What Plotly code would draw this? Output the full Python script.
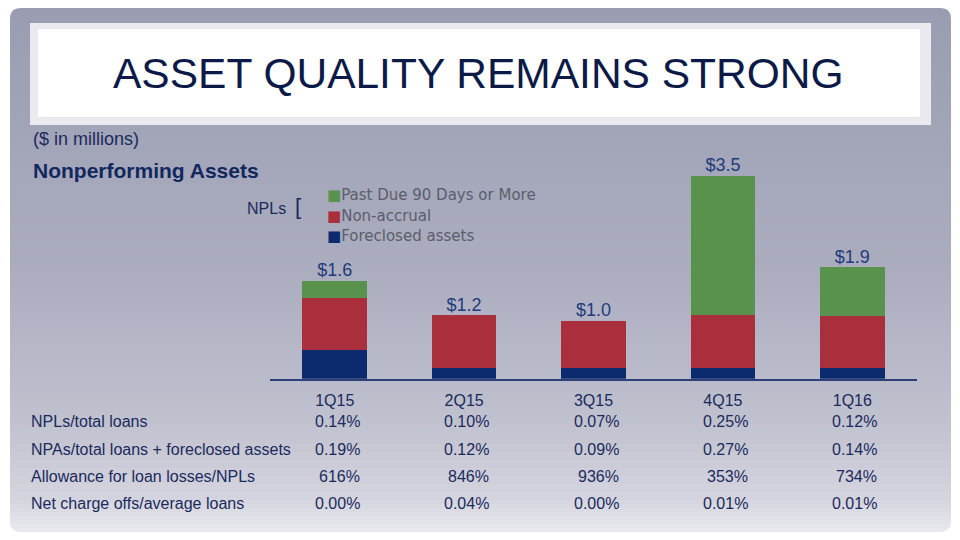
import plotly.graph_objects as go

# ---------------- data ----------------
quarters = ["1Q15", "2Q15", "3Q15", "4Q15", "1Q16"]
foreclosed = [0.49, 0.19, 0.19, 0.19, 0.19]
non_accrual = [0.91, 0.90, 0.81, 0.90, 0.89]
past_due = [0.29, 0.00, 0.00, 2.41, 0.84]
total_labels = ["$1.6", "$1.2", "$1.0", "$3.5", "$1.9"]

series_names = ["Past Due 90 Days or More", "Non-accrual", "Foreclosed assets"]

row_labels = [
    "NPLs/total loans",
    "NPAs/total loans + foreclosed assets",
    "Allowance for loan losses/NPLs",
    "Net charge offs/average loans",
]
row_values = [
    ["0.14%", "0.10%", "0.07%", "0.25%", "0.12%"],
    ["0.19%", "0.12%", "0.09%", "0.27%", "0.14%"],
    ["616%", "846%", "936%", "353%", "734%"],
    ["0.00%", "0.04%", "0.00%", "0.01%", "0.01%"],
]

title_text = "ASSET QUALITY REMAINS STRONG"

# ---------------- styles ----------------
W, H = 960, 540
GREEN = "#58924c"
RED = "#a92f3d"
NAVY = "#0c2a6e"
TEXT_NAVY = "#1b2a5c"
LABEL_NAVY = "#1f3a7c"
ARIAL = "Liberation Sans, Arial, sans-serif"
GOTHIC = "DejaVu Sans, Noto Sans, sans-serif"


def px(x):
    return x / W


def py(y):
    return 1 - y / H


totals = [f + n + p for f, n, p in zip(foreclosed, non_accrual, past_due)]

fig = go.Figure()
fig.add_bar(x=quarters, y=foreclosed, name=series_names[2], marker_color=NAVY,
            width=0.5, marker_line_width=0)
fig.add_bar(x=quarters, y=non_accrual, name=series_names[1], marker_color=RED,
            width=0.5, marker_line_width=0)
fig.add_bar(x=quarters, y=past_due, name=series_names[0], marker_color=GREEN,
            width=0.5, marker_line_width=0)
fig.add_scatter(x=quarters, y=totals, mode="text", text=total_labels,
                textposition="top center",
                textfont=dict(family=ARIAL, size=18, color=LABEL_NAVY),
                showlegend=False, hoverinfo="skip")

shapes = []
# panel gradient as stripes
stops = [(8, (154, 156, 177)), (270, (171, 173, 191)), (420, (192, 193, 207)),
         (500, (213, 213, 223)), (532, (233, 233, 239))]


def col_at(y):
    for (y0, c0), (y1, c1) in zip(stops[:-1], stops[1:]):
        if y0 <= y <= y1:
            t = (y - y0) / (y1 - y0)
            return tuple(round(a + (b - a) * t) for a, b in zip(c0, c1))
    return stops[-1][1]


x0p, x1p, y0p, y1p = 10, 951, 8, 532
step = 4
y = y0p
while y < y1p:
    yb = min(y + step, y1p)
    c = col_at(y + step / 2)
    shapes.append(dict(type="rect", xref="paper", yref="paper", layer="below",
                       x0=px(x0p), x1=px(x1p), y0=py(y), y1=py(min(yb + 0.6, y1p)),
                       fillcolor="rgb(%d,%d,%d)" % c, line_width=0))
    y = yb

# rounded-corner masks (white)
r = 11
corners = [
    (x0p, y0p, 1, 1), (x1p, y0p, -1, 1), (x0p, y1p, 1, -1), (x1p, y1p, -1, -1)
]
for cx, cy, sx, sy in corners:
    pts = [(cx - sx, cy - sy), (cx + sx * r, cy - sy), (cx + sx * r, cy), (cx, cy), (cx, cy + sy * r), (cx - sx, cy + sy * r)]
    path = "M {:.5f},{:.5f} L {:.5f},{:.5f} L {:.5f},{:.5f} Q {:.5f},{:.5f} {:.5f},{:.5f} L {:.5f},{:.5f} Z".format(
        px(pts[0][0]), py(pts[0][1]), px(pts[1][0]), py(pts[1][1]),
        px(pts[2][0]), py(pts[2][1]), px(pts[3][0]), py(pts[3][1]),
        px(pts[4][0]), py(pts[4][1]), px(pts[5][0]), py(pts[5][1]))
    shapes.append(dict(type="path", xref="paper", yref="paper", layer="below",
                       path=path, fillcolor="white", line_width=0))

# title box
shapes.append(dict(type="rect", xref="paper", yref="paper", layer="below",
                   x0=px(30), x1=px(931), y0=py(23), y1=py(125),
                   fillcolor="#e9e9ef", line_width=0))
shapes.append(dict(type="rect", xref="paper", yref="paper", layer="below",
                   x0=px(38), x1=px(920), y0=py(29), y1=py(117),
                   fillcolor="white", line_width=0))

annotations = []
annotations.append(dict(text=title_text, xref="paper", yref="paper", x=px(478), y=py(73),
                        xanchor="center", yanchor="middle", showarrow=False,
                        font=dict(family=ARIAL, size=42.5, color="#0c1a48")))
annotations.append(dict(text="($ in millions)", xref="paper", yref="paper", x=px(31), y=py(139),
                        xanchor="left", yanchor="middle", showarrow=False,
                        font=dict(family=ARIAL, size=18, color=TEXT_NAVY)))
annotations.append(dict(text="<b>Nonperforming Assets</b>", xref="paper", yref="paper",
                        x=px(31), y=py(170), xanchor="left", yanchor="middle",
                        showarrow=False, font=dict(family=ARIAL, size=21, color="#13275f")))
annotations.append(dict(text="NPLs", xref="paper", yref="paper", x=px(245), y=py(208),
                        xanchor="left", yanchor="middle", showarrow=False,
                        font=dict(family=ARIAL, size=16, color=TEXT_NAVY)))
annotations.append(dict(text="[", xref="paper", yref="paper", x=px(293), y=py(207),
                        xanchor="left", yanchor="middle", showarrow=False,
                        font=dict(family=ARIAL, size=22, color=TEXT_NAVY)))

legend_colors = [GREEN, RED, NAVY]
for i, (nm, cl) in enumerate(zip(series_names, legend_colors)):
    annotations.append(dict(
        text="<span style='color:%s'>■</span>%s" % (cl, nm),
        xref="paper", yref="paper", x=px(325), y=py(195 + 20.5 * i),
        xanchor="left", yanchor="middle", showarrow=False,
        font=dict(family=GOTHIC, size=15, color="#5b5d6c")))

row_y = [421, 449, 476, 503]
for lab, vals, yy in zip(row_labels, row_values, row_y):
    annotations.append(dict(text=lab, xref="paper", yref="paper", x=px(29), y=py(yy),
                            xanchor="left", yanchor="middle", showarrow=False,
                            font=dict(family=ARIAL, size=16, color=TEXT_NAVY)))
    for q, v in zip(quarters, vals):
        annotations.append(dict(text=v, xref="x", yref="paper", x=q, y=py(yy),
                                xanchor="right", yanchor="middle", xshift=27,
                                showarrow=False,
                                font=dict(family=ARIAL, size=16, color=TEXT_NAVY)))

fig.update_layout(
    width=W, height=H,
    margin=dict(l=0, r=0, t=0, b=0),
    paper_bgcolor="white", plot_bgcolor="rgba(0,0,0,0)",
    barmode="stack", bargap=0.5,
    showlegend=False,
    shapes=shapes, annotations=annotations,
    xaxis=dict(domain=[px(270), px(917)], range=[-0.5, 4.5], showline=True,
               linecolor="#2c3f78", linewidth=2, showgrid=False, zeroline=False,
               ticks="", tickfont=dict(family=ARIAL, size=16, color=TEXT_NAVY),
               ticklabelstandoff=6, fixedrange=True),
    yaxis=dict(domain=[py(378.7), py(146.7)], range=[0, 4], showgrid=False,
               zeroline=False, showticklabels=False, showline=False, fixedrange=True),
)

fig.write_html("out.html", config={"displayModeBar": False},
               post_script="document.body.style.margin='0';")
